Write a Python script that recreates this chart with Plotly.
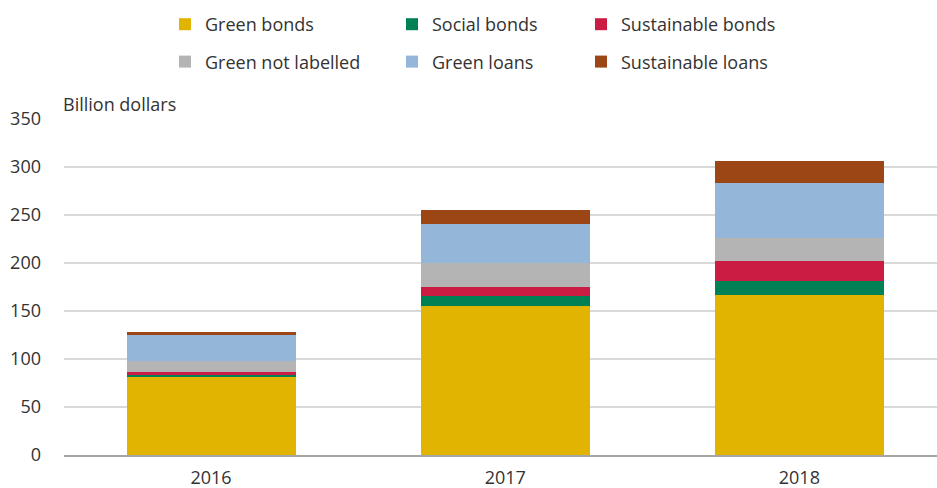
import plotly.graph_objects as go

# Issuance by instrument, billion dollars
years = ["2016", "2017", "2018"]
green_bonds = [81.3, 155.4, 166.8]
social_bonds = [2.1, 10.4, 14.3]
sustainable_bonds = [3.2, 9.4, 21.2]
green_not_labelled = [11.3, 24.3, 24.0]
green_loans = [27.2, 41.4, 57.3]
sustainable_loans = [3.0, 14.6, 23.0]

series = [
    ("Green bonds", green_bonds, "#E0B400", "legend"),
    ("Social bonds", social_bonds, "#008055", "legend2"),
    ("Sustainable bonds", sustainable_bonds, "#CB1D43", "legend3"),
    ("Green not labelled", green_not_labelled, "#B4B4B4", "legend"),
    ("Green loans", green_loans, "#93B6D9", "legend2"),
    ("Sustainable loans", sustainable_loans, "#9C4515", "legend3"),
]

FONT = "Open Sans"
TEXT = "#333333"
W, H = 937, 488

fig = go.Figure()
for name, vals, color, leg in series:
    fig.add_trace(go.Bar(
        x=years, y=vals, name=name, legend=leg, legendgroup=name,
        marker=dict(color=color, line=dict(width=0)), width=0.575,
    ))

def legend_box(px):
    return dict(
        xref="container", yref="container",
        x=px / W, y=1 - 6 / H, xanchor="left", yanchor="top",
        orientation="v", traceorder="grouped", tracegroupgap=11,
        font=dict(family=FONT, size=18, color=TEXT),
        bgcolor="rgba(0,0,0,0)", borderwidth=0,
    )

fig.update_layout(
    width=W, height=H,
    barmode="stack",
    paper_bgcolor="white", plot_bgcolor="white",
    margin=dict(l=64, r=0, t=119, b=33, autoexpand=False),
    font=dict(family=FONT, size=18, color=TEXT),
    legend=legend_box(165),
    legend2=legend_box(392),
    legend3=legend_box(581),
    xaxis=dict(
        type="category", range=[-0.5, 2.468], showgrid=False,
        showline=True, linecolor="#a6a6a6", linewidth=2, ticks="",
        ticklabelstandoff=5, automargin=False,
        tickfont=dict(family=FONT, size=18, color=TEXT),
    ),
    yaxis=dict(
        range=[0, 350], dtick=50, tick0=0, showgrid=True,
        gridcolor="#d9d9d9", gridwidth=1.5, zeroline=False,
        showline=False, ticks="", ticklabelstandoff=22, automargin=False,
        tickfont=dict(family=FONT, size=18, color=TEXT),
    ),
    annotations=[dict(
        text="Billion dollars", xref="paper", yref="paper",
        x=0, y=(455 - 104) / 336, xanchor="left", yanchor="middle",
        xshift=-3, showarrow=False,
        font=dict(family=FONT, size=18, color=TEXT),
    )],
)

fig.write_html("out.html")
